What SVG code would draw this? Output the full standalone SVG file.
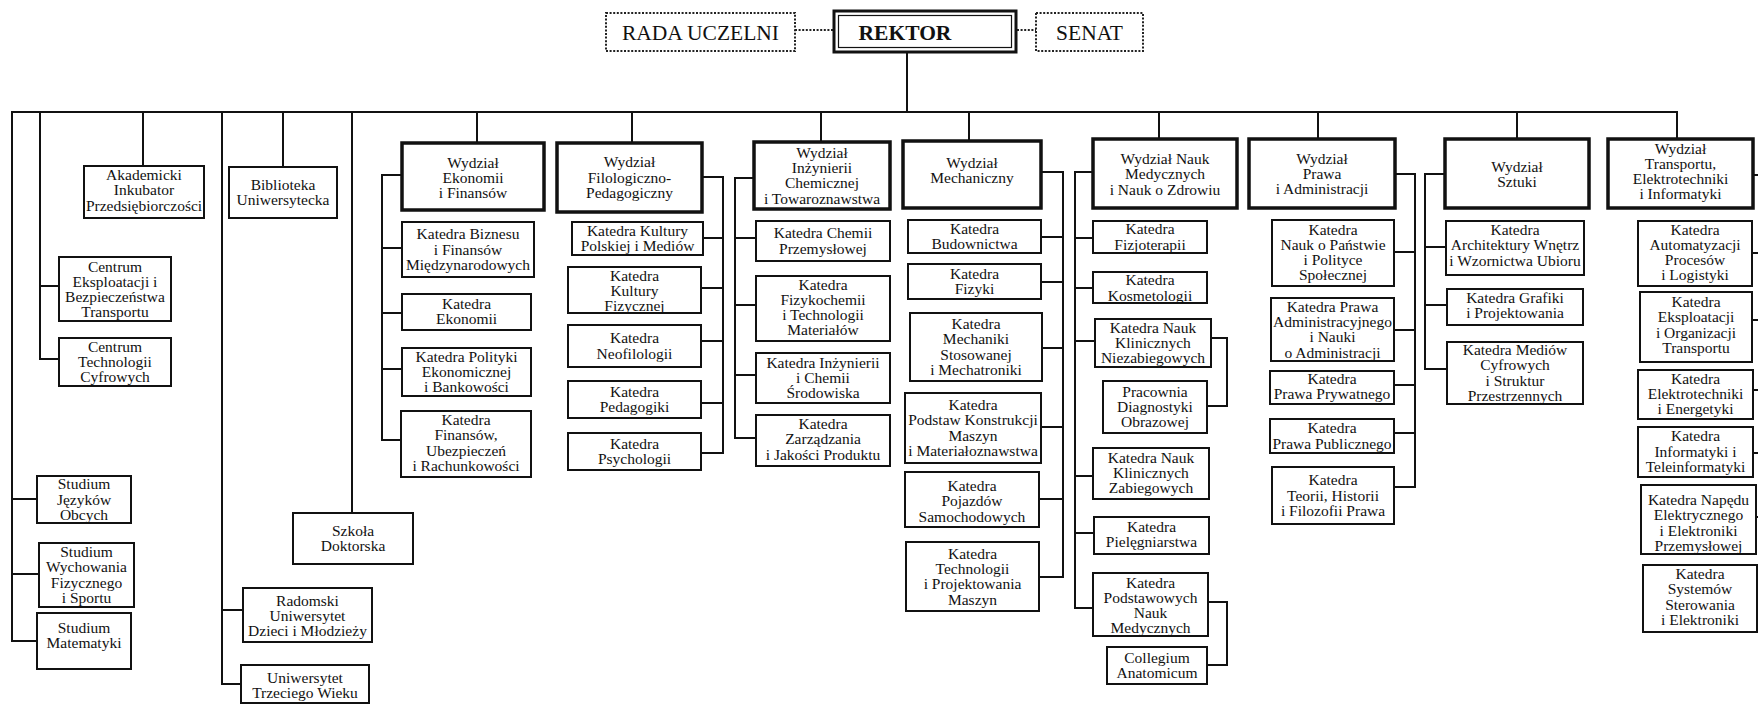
<svg xmlns="http://www.w3.org/2000/svg" width="1758" height="704" viewBox="0 0 1758 704">
<style>
.bg{fill:#fff}
.b{fill:#fff;stroke:#111;stroke-width:2}
.w{fill:#fff;stroke:#111;stroke-width:3.5}
.dot{fill:#fff;stroke:#222;stroke-width:2;stroke-dasharray:2 1.6}
.t{font-family:"Liberation Serif","Times New Roman",serif;font-size:15.5px;fill:#111;text-anchor:middle}
.top{font-family:"Liberation Serif","Times New Roman",serif;font-size:21.5px;fill:#111;text-anchor:middle}
.c{fill:none;stroke:#111;stroke-width:2;stroke-linecap:square;stroke-linejoin:miter}
.cd{fill:none;stroke:#222;stroke-width:1.8;stroke-dasharray:2 1.6}
</style>
<rect class="bg" x="0" y="0" width="1758" height="704"/>

<g id="connectors">
<path class="cd" d="M795 30 H833 M1017 30 H1036"/>
<path class="c" d="M907 53 V112"/>
<path class="c" d="M12 112 H1677"/>
<path class="c" d="M12 112 V641 H37 M12 499 H37 M12 574 H39"/>
<path class="c" d="M40 112 V359 H59 M40 286 H59"/>
<path class="c" d="M143 112 V166"/>
<path class="c" d="M222 112 V684 H241 M222 610 H243"/>
<path class="c" d="M283 112 V167"/>
<path class="c" d="M352 112 V513"/>
<path class="c" d="M477 112 V143 M632 112 V143 M821 112 V142 M969 112 V141 M1159 112 V139 M1318 112 V139 M1517 112 V139 M1677 112 V139"/>
<path class="c" d="M402 175 H382 V440 H401 M382 248 H402 M382 313 H402 M382 369 H402"/>
<path class="c" d="M702 177 H723 V453 H701 M703 238 H723 M701 288 H723 M701 341 H723 M701 403 H723"/>
<path class="c" d="M754 178 H735 V438 H756 M735 238 H756 M735 305 H756 M735 375 H756"/>
<path class="c" d="M1041 172 H1063 V577 H1039 M1041 237 H1063 M1041 282 H1063 M1042 348 H1063 M1041 427 H1063 M1039 499 H1063"/>
<path class="c" d="M1093 172 H1075 V608 H1093 M1075 238 H1093 M1075 288 H1093 M1075 341 H1095 M1075 476 H1093 M1075 533 H1094"/>
<path class="c" d="M1211 338 H1227 V406 H1207 M1208 602 H1227 V665 H1207"/>
<path class="c" d="M1395 174 H1415 V487 H1394 M1394 252 H1415 M1394 330 H1415 M1394 385 H1415 M1394 433 H1415"/>
<path class="c" d="M1445 174 H1425 V369 H1447 M1425 247 H1446 M1425 305 H1447"/>
<path class="c" d="M1753 175 H1760 M1752 253 H1760 M1752 320 H1760 M1753 390 H1760 M1753 453 H1760 M1756 517 H1760"/>
</g>

<g id="rada"><rect class="dot" x="606" y="13" width="189" height="38"/><text class="top" x="700.5" y="39.5">RADA UCZELNI</text></g>
<g id="rektor"><rect fill="#fff" stroke="#111" stroke-width="3" x="834" y="11" width="182" height="41"/><rect fill="none" stroke="#111" stroke-width="1.2" x="838.5" y="15.5" width="173" height="32"/><text class="top" x="905" y="39.5" font-weight="bold">REKTOR</text></g>
<g id="senat"><rect class="dot" x="1036" y="13" width="107" height="38"/><text class="top" x="1089.5" y="39.5">SENAT</text></g>

<g id="akademicki"><rect class="b" x="84" y="166" width="120" height="52"/><text class="t"><tspan x="144" y="180">Akademicki</tspan><tspan x="144" y="195.3">Inkubator</tspan><tspan x="144" y="210.6">Przedsiębiorczości</tspan></text></g>
<g id="centrum-ebt"><rect class="b" x="59" y="257" width="112" height="64"/><text class="t"><tspan x="115" y="271.5">Centrum</tspan><tspan x="115" y="286.8">Eksploatacji i</tspan><tspan x="115" y="302.1">Bezpieczeństwa</tspan><tspan x="115" y="317.4">Transportu</tspan></text></g>
<g id="centrum-tc"><rect class="b" x="59" y="338" width="112" height="48"/><text class="t"><tspan x="115" y="351.7">Centrum</tspan><tspan x="115" y="367">Technologii</tspan><tspan x="115" y="382.3">Cyfrowych</tspan></text></g>
<g id="studium-jo"><rect class="b" x="37" y="476" width="94" height="47"/><text class="t"><tspan x="84" y="489.2">Studium</tspan><tspan x="84" y="504.5">Języków</tspan><tspan x="84" y="519.8">Obcych</tspan></text></g>
<g id="studium-wf"><rect class="b" x="39" y="543" width="95" height="64"/><text class="t"><tspan x="86.5" y="557">Studium</tspan><tspan x="86.5" y="572.3">Wychowania</tspan><tspan x="86.5" y="587.6">Fizycznego</tspan><tspan x="86.5" y="602.9">i  Sportu</tspan></text></g>
<g id="studium-mat"><rect class="b" x="37" y="613" width="94" height="56"/><text class="t"><tspan x="84" y="632.5">Studium</tspan><tspan x="84" y="647.8">Matematyki</tspan></text></g>
<g id="biblioteka"><rect class="b" x="229" y="167" width="108" height="51"/><text class="t"><tspan x="283" y="189.5">Biblioteka</tspan><tspan x="283" y="204.8">Uniwersytecka</tspan></text></g>
<g id="szkola"><rect class="b" x="293" y="513" width="120" height="51"/><text class="t"><tspan x="353" y="535.8">Szkoła</tspan><tspan x="353" y="551.1">Doktorska</tspan></text></g>
<g id="rudm"><rect class="b" x="243" y="588" width="129" height="54"/><text class="t"><tspan x="307.5" y="605.5">Radomski</tspan><tspan x="307.5" y="620.8">Uniwersytet</tspan><tspan x="307.5" y="636.1">Dzieci i Młodzieży</tspan></text></g>
<g id="utw"><rect class="b" x="241" y="665" width="128" height="38"/><text class="t"><tspan x="305" y="683">Uniwersytet</tspan><tspan x="305" y="698.3">Trzeciego Wieku</tspan></text></g>

<g id="w-ekonomii"><rect class="w" x="402" y="143" width="142" height="67"/><text class="t"><tspan x="473" y="167.7">Wydział</tspan><tspan x="473" y="183">Ekonomii</tspan><tspan x="473" y="198.3">i Finansów</tspan></text></g>
<g id="k-biznesu"><rect class="b" x="402" y="222" width="132" height="55"/><text class="t"><tspan x="468" y="239.2">Katedra  Biznesu</tspan><tspan x="468" y="254.5">i Finansów</tspan><tspan x="468" y="269.8">Międzynarodowych</tspan></text></g>
<g id="k-ekonomii"><rect class="b" x="402" y="294" width="129" height="36"/><text class="t"><tspan x="466.5" y="308.5">Katedra</tspan><tspan x="466.5" y="323.8">Ekonomii</tspan></text></g>
<g id="k-polityki"><rect class="b" x="402" y="348" width="129" height="48"/><text class="t"><tspan x="466.5" y="361.7">Katedra Polityki</tspan><tspan x="466.5" y="377">Ekonomicznej</tspan><tspan x="466.5" y="392.3">i Bankowości</tspan></text></g>
<g id="k-finansow"><rect class="b" x="401" y="411" width="130" height="66"/><text class="t"><tspan x="466" y="425">Katedra</tspan><tspan x="466" y="440.3">Finansów,</tspan><tspan x="466" y="455.6">Ubezpieczeń</tspan><tspan x="466" y="470.9">i Rachunkowości</tspan></text></g>

<g id="w-filologiczno"><rect class="w" x="557" y="143" width="145" height="69"/><text class="t"><tspan x="629.5" y="167.2">Wydział</tspan><tspan x="629.5" y="182.5">Filologiczno-</tspan><tspan x="629.5" y="197.8">Pedagogiczny</tspan></text></g>
<g id="k-kultury-pol"><rect class="b" x="572" y="222" width="131" height="33"/><text class="t"><tspan x="637.5" y="235.9">Katedra Kultury</tspan><tspan x="637.5" y="251.2">Polskiej i Mediów</tspan></text></g>
<g id="k-kultury-fiz"><rect class="b" x="568" y="267" width="133" height="46"/><text class="t"><tspan x="634.5" y="280.7">Katedra</tspan><tspan x="634.5" y="296">Kultury</tspan><tspan x="634.5" y="311.3">Fizycznej</tspan></text></g>
<g id="k-neofilologii"><rect class="b" x="568" y="325" width="133" height="42"/><text class="t"><tspan x="634.5" y="343.4">Katedra</tspan><tspan x="634.5" y="358.7">Neofilologii</tspan></text></g>
<g id="k-pedagogiki"><rect class="b" x="568" y="381" width="133" height="37"/><text class="t"><tspan x="634.5" y="396.9">Katedra</tspan><tspan x="634.5" y="412.2">Pedagogiki</tspan></text></g>
<g id="k-psychologii"><rect class="b" x="568" y="433" width="133" height="37"/><text class="t"><tspan x="634.5" y="448.9">Katedra</tspan><tspan x="634.5" y="464.2">Psychologii</tspan></text></g>

<g id="w-inzynierii"><rect class="w" x="754" y="142" width="136" height="67"/><text class="t"><tspan x="822" y="157.6">Wydział</tspan><tspan x="822" y="172.9">Inżynierii</tspan><tspan x="822" y="188.2">Chemicznej</tspan><tspan x="822" y="203.5">i Towaroznawstwa</tspan></text></g>
<g id="k-chemii"><rect class="b" x="756" y="221" width="134" height="40"/><text class="t"><tspan x="823" y="238.4">Katedra Chemii</tspan><tspan x="823" y="253.7">Przemysłowej</tspan></text></g>
<g id="k-fizykochemii"><rect class="b" x="756" y="276" width="134" height="65"/><text class="t"><tspan x="823" y="289.5">Katedra</tspan><tspan x="823" y="304.8">Fizykochemii</tspan><tspan x="823" y="320.1">i Technologii</tspan><tspan x="823" y="335.4">Materiałów</tspan></text></g>
<g id="k-inz-chemii"><rect class="b" x="756" y="353" width="134" height="50"/><text class="t"><tspan x="823" y="367.7">Katedra Inżynierii</tspan><tspan x="823" y="383">i Chemii</tspan><tspan x="823" y="398.3">Środowiska</tspan></text></g>
<g id="k-zarzadzania"><rect class="b" x="756" y="415" width="134" height="51"/><text class="t"><tspan x="823" y="429">Katedra</tspan><tspan x="823" y="444.3">Zarządzania</tspan><tspan x="823" y="459.6">i Jakości Produktu</tspan></text></g>

<g id="w-mechaniczny"><rect class="w" x="903" y="141" width="138" height="67"/><text class="t"><tspan x="972" y="168">Wydział</tspan><tspan x="972" y="183.3">Mechaniczny</tspan></text></g>
<g id="k-budownictwa"><rect class="b" x="908" y="220" width="133" height="33"/><text class="t"><tspan x="974.5" y="233.9">Katedra</tspan><tspan x="974.5" y="249.2">Budownictwa</tspan></text></g>
<g id="k-fizyki"><rect class="b" x="908" y="264" width="133" height="35"/><text class="t"><tspan x="974.5" y="278.9">Katedra</tspan><tspan x="974.5" y="294.2">Fizyki</tspan></text></g>
<g id="k-mechaniki"><rect class="b" x="910" y="313" width="132" height="68"/><text class="t"><tspan x="976" y="329.1">Katedra</tspan><tspan x="976" y="344.4">Mechaniki</tspan><tspan x="976" y="359.7">Stosowanej</tspan><tspan x="976" y="375">i Mechatroniki</tspan></text></g>
<g id="k-podstaw"><rect class="b" x="905" y="393" width="136" height="70"/><text class="t"><tspan x="973" y="410.1">Katedra</tspan><tspan x="973" y="425.4">Podstaw Konstrukcji</tspan><tspan x="973" y="440.7">Maszyn</tspan><tspan x="973" y="456">i Materiałoznawstwa</tspan></text></g>
<g id="k-pojazdow"><rect class="b" x="905" y="472" width="134" height="55"/><text class="t"><tspan x="972" y="491">Katedra</tspan><tspan x="972" y="506.3">Pojazdów</tspan><tspan x="972" y="521.6">Samochodowych</tspan></text></g>
<g id="k-technologii"><rect class="b" x="906" y="542" width="133" height="69"/><text class="t"><tspan x="972.5" y="558.6">Katedra</tspan><tspan x="972.5" y="573.9">Technologii</tspan><tspan x="972.5" y="589.2">i Projektowania</tspan><tspan x="972.5" y="604.5">Maszyn</tspan></text></g>

<g id="w-medycznych"><rect class="w" x="1093" y="139" width="144" height="69"/><text class="t"><tspan x="1165" y="164">Wydział Nauk</tspan><tspan x="1165" y="179.3">Medycznych</tspan><tspan x="1165" y="194.6">i Nauk o Zdrowiu</tspan></text></g>
<g id="k-fizjoterapii"><rect class="b" x="1093" y="221" width="114" height="32"/><text class="t"><tspan x="1150" y="234.4">Katedra</tspan><tspan x="1150" y="249.7">Fizjoterapii</tspan></text></g>
<g id="k-kosmetologii"><rect class="b" x="1093" y="272" width="114" height="31"/><text class="t"><tspan x="1150" y="285.4">Katedra</tspan><tspan x="1150" y="300.7">Kosmetologii</tspan></text></g>
<g id="k-niezabiegowych"><rect class="b" x="1095" y="319" width="116" height="48"/><text class="t"><tspan x="1153" y="332.7">Katedra Nauk</tspan><tspan x="1153" y="348">Klinicznych</tspan><tspan x="1153" y="363.3">Niezabiegowych</tspan></text></g>
<g id="p-diagnostyki"><rect class="b" x="1103" y="381" width="104" height="52"/><text class="t"><tspan x="1155" y="396.7">Pracownia</tspan><tspan x="1155" y="412">Diagnostyki</tspan><tspan x="1155" y="427.3">Obrazowej</tspan></text></g>
<g id="k-zabiegowych"><rect class="b" x="1093" y="448" width="116" height="51"/><text class="t"><tspan x="1151" y="462.7">Katedra Nauk</tspan><tspan x="1151" y="478">Klinicznych</tspan><tspan x="1151" y="493.3">Zabiegowych</tspan></text></g>
<g id="k-pielegniarstwa"><rect class="b" x="1094" y="517" width="115" height="37"/><text class="t"><tspan x="1151.5" y="532">Katedra</tspan><tspan x="1151.5" y="547.3">Pielęgniarstwa</tspan></text></g>
<g id="k-podstawowych"><rect class="b" x="1093" y="573" width="115" height="63"/><text class="t"><tspan x="1150.5" y="587.5">Katedra</tspan><tspan x="1150.5" y="602.8">Podstawowych</tspan><tspan x="1150.5" y="618.1">Nauk</tspan><tspan x="1150.5" y="633.4">Medycznych</tspan></text></g>
<g id="collegium"><rect class="b" x="1107" y="647" width="100" height="37"/><text class="t"><tspan x="1157" y="662.9">Collegium</tspan><tspan x="1157" y="678.2">Anatomicum</tspan></text></g>

<g id="w-prawa"><rect class="w" x="1249" y="139" width="146" height="69"/><text class="t"><tspan x="1322" y="163.7">Wydział</tspan><tspan x="1322" y="179">Prawa</tspan><tspan x="1322" y="194.3">i Administracji</tspan></text></g>
<g id="k-panstwie"><rect class="b" x="1272" y="220" width="122" height="66"/><text class="t"><tspan x="1333" y="235">Katedra</tspan><tspan x="1333" y="250">Nauk o Państwie</tspan><tspan x="1333" y="265">i Polityce</tspan><tspan x="1333" y="280">Społecznej</tspan></text></g>
<g id="k-administracyjnego"><rect class="b" x="1271" y="298" width="123" height="63"/><text class="t"><tspan x="1332.5" y="312">Katedra Prawa</tspan><tspan x="1332.5" y="327.2">Administracyjnego</tspan><tspan x="1332.5" y="342.4">i Nauki</tspan><tspan x="1332.5" y="357.6">o Administracji</tspan></text></g>
<g id="k-prywatnego"><rect class="b" x="1270" y="371" width="124" height="33"/><text class="t"><tspan x="1332" y="384">Katedra</tspan><tspan x="1332" y="399.3">Prawa Prywatnego</tspan></text></g>
<g id="k-publicznego"><rect class="b" x="1270" y="419" width="124" height="34"/><text class="t"><tspan x="1332" y="433.4">Katedra</tspan><tspan x="1332" y="448.7">Prawa Publicznego</tspan></text></g>
<g id="k-teorii"><rect class="b" x="1272" y="467" width="122" height="57"/><text class="t"><tspan x="1333" y="485.2">Katedra</tspan><tspan x="1333" y="500.5">Teorii, Historii</tspan><tspan x="1333" y="515.8">i Filozofii Prawa</tspan></text></g>

<g id="w-sztuki"><rect class="w" x="1445" y="139" width="144" height="69"/><text class="t"><tspan x="1517" y="171.5">Wydział</tspan><tspan x="1517" y="187">Sztuki</tspan></text></g>
<g id="k-architektury"><rect class="b" x="1446" y="221" width="138" height="54"/><text class="t"><tspan x="1515" y="235">Katedra</tspan><tspan x="1515" y="250.3">Architektury Wnętrz</tspan><tspan x="1515" y="265.6">i Wzornictwa Ubioru</tspan></text></g>
<g id="k-grafiki"><rect class="b" x="1447" y="289" width="136" height="36"/><text class="t"><tspan x="1515" y="302.5">Katedra Grafiki</tspan><tspan x="1515" y="317.8">i Projektowania</tspan></text></g>
<g id="k-mediow"><rect class="b" x="1447" y="342" width="136" height="62"/><text class="t"><tspan x="1515" y="355">Katedra Mediów</tspan><tspan x="1515" y="370.3">Cyfrowych</tspan><tspan x="1515" y="385.6">i Struktur</tspan><tspan x="1515" y="400.9">Przestrzennych</tspan></text></g>

<g id="w-transportu"><rect class="w" x="1608" y="139" width="145" height="69"/><text class="t"><tspan x="1680.5" y="153.5">Wydział</tspan><tspan x="1680.5" y="168.8">Transportu,</tspan><tspan x="1680.5" y="184.1">Elektrotechniki</tspan><tspan x="1680.5" y="199.4">i Informatyki</tspan></text></g>
<g id="k-automatyzacji"><rect class="b" x="1638" y="221" width="114" height="65"/><text class="t"><tspan x="1695" y="234.5">Katedra</tspan><tspan x="1695" y="249.8">Automatyzacji</tspan><tspan x="1695" y="265.1">Procesów</tspan><tspan x="1695" y="280.4">i Logistyki</tspan></text></g>
<g id="k-eksploatacji"><rect class="b" x="1640" y="292" width="112" height="70"/><text class="t"><tspan x="1696" y="307">Katedra</tspan><tspan x="1696" y="322.3">Eksploatacji</tspan><tspan x="1696" y="337.6">i Organizacji</tspan><tspan x="1696" y="352.9">Transportu</tspan></text></g>
<g id="k-elektrotechniki"><rect class="b" x="1638" y="370" width="115" height="49"/><text class="t"><tspan x="1695.5" y="383.7">Katedra</tspan><tspan x="1695.5" y="399">Elektrotechniki</tspan><tspan x="1695.5" y="414.3">i Energetyki</tspan></text></g>
<g id="k-informatyki"><rect class="b" x="1638" y="427" width="115" height="50"/><text class="t"><tspan x="1695.5" y="441.4">Katedra</tspan><tspan x="1695.5" y="456.7">Informatyki i</tspan><tspan x="1695.5" y="472">Teleinformatyki</tspan></text></g>
<g id="k-napedu"><rect class="b" x="1641" y="485" width="115" height="69"/><text class="t"><tspan x="1698.5" y="505">Katedra Napędu</tspan><tspan x="1698.5" y="520.3">Elektrycznego</tspan><tspan x="1698.5" y="535.6">i Elektroniki</tspan><tspan x="1698.5" y="550.9">Przemysłowej</tspan></text></g>
<g id="k-systemow"><rect class="b" x="1643" y="565" width="114" height="67"/><text class="t"><tspan x="1700" y="579">Katedra</tspan><tspan x="1700" y="594.3">Systemów</tspan><tspan x="1700" y="609.6">Sterowania</tspan><tspan x="1700" y="624.9">i Elektroniki</tspan></text></g>
</svg>
